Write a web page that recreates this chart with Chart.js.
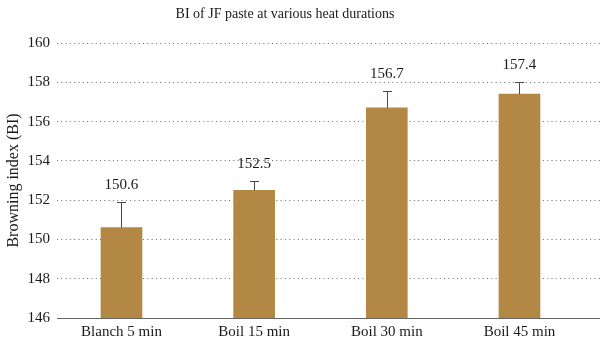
<!DOCTYPE html>
<html>
<head>
<meta charset="utf-8">
<script src="https://cdn.jsdelivr.net/npm/chart.js@4.4.1/dist/chart.umd.min.js"></script>
<style>
  html, body { margin: 0; padding: 0; background: #fff; }
  #wrap { width: 600px; height: 342px; }
</style>
</head>
<body>
<div id="wrap"><canvas id="myChart" width="600" height="342"></canvas></div>
<script>
const categories = ['Blanch 5 min', 'Boil 15 min', 'Boil 30 min', 'Boil 45 min'];
const browningIndex = [150.6, 152.5, 156.7, 157.4];
const errorValues = [1.3, 0.45, 0.85, 0.6];
const yMin = 146;
const yMax = 160;
const yStep = 2;

const titleText = 'BI of JF paste at various heat durations';
const serif = '"Liberation Serif", "DejaVu Serif", serif';

const ctx = document.getElementById('myChart').getContext('2d');

// error bars + value labels on top of them
const errorBars = {
    id: 'errorBars',
    afterDatasetsDraw(chart) {
        const c = chart.ctx;
        const yScale = chart.scales.y;
        const meta = chart.getDatasetMeta(0);
        c.save();
        meta.data.forEach((bar, i) => {
            const top = yScale.getPixelForValue(browningIndex[i] + errorValues[i]);
            const x = Math.round(bar.x);
            c.strokeStyle = '#4a4a4a';
            c.lineWidth = 1;
            c.beginPath();
            c.moveTo(x + 0.5, bar.y);
            c.lineTo(x + 0.5, top);
            c.moveTo(x - 4, Math.round(top) + 0.5);
            c.lineTo(x + 5, Math.round(top) + 0.5);
            c.stroke();

            c.fillStyle = '#1a1a1a';
            c.font = '15px ' + serif;
            c.textAlign = 'center';
            c.textBaseline = 'middle';
            c.fillText(browningIndex[i].toFixed(1), bar.x, top - 17);
        });
        c.restore();
    }
};

const topTitle = {
    id: 'topTitle',
    afterDraw(chart) {
        const c = chart.ctx;
        c.save();
        c.fillStyle = '#1a1a1a';
        c.font = '14px ' + serif;
        c.textAlign = 'center';
        c.textBaseline = 'middle';
        c.fillText(titleText, 285, 14);
        c.restore();
    }
};

const chart = new Chart(ctx, {
    type: 'bar',
    data: {
        datasets: [{
            label: 'BI',
            data: browningIndex.map((v, i) => ({ x: i, y: v })),
            backgroundColor: '#B38744',
            borderWidth: 0,
            barThickness: 41,
        }],
    },
    options: {
        responsive: false,
        animation: false,
        layout: { padding: { top: 43, left: 0, right: 0, bottom: 0 } },
        plugins: {
            legend: { display: false },
            tooltip: { enabled: false },
        },
        scales: {
            x: {
                type: 'linear',
                offset: false,
                min: -0.486,
                max: 3.607,
                grid: { display: false, drawTicks: false },
                border: { display: true, color: '#666', width: 1 },
                afterBuildTicks: (scale) => {
                    scale.ticks = categories.map((c, i) => ({ value: i }));
                },
                afterFit: (scale) => { scale.height = 24; },
                ticks: {
                    autoSkip: false,
                    maxRotation: 0,
                    padding: 5,
                    color: '#1a1a1a',
                    font: { family: serif, size: 15 },
                    callback: (v) => categories[v],
                },
            },
            y: {
                min: yMin,
                max: yMax,
                grid: { color: '#666', lineWidth: 1, drawTicks: false },
                border: { display: false, dash: [1, 3.3] },
                afterFit: (scale) => { scale.width = 57; },
                ticks: {
                    stepSize: yStep,
                    padding: 7,
                    color: '#1a1a1a',
                    font: { family: serif, size: 15 },
                },
                title: {
                    display: true,
                    text: 'Browning index (BI)',
                    color: '#1a1a1a',
                    font: { family: serif, size: 16 },
                    padding: { top: 4, bottom: 0 },
                },
            },
        },
    },
    plugins: [errorBars, topTitle],
});
</script>
</body>
</html>
